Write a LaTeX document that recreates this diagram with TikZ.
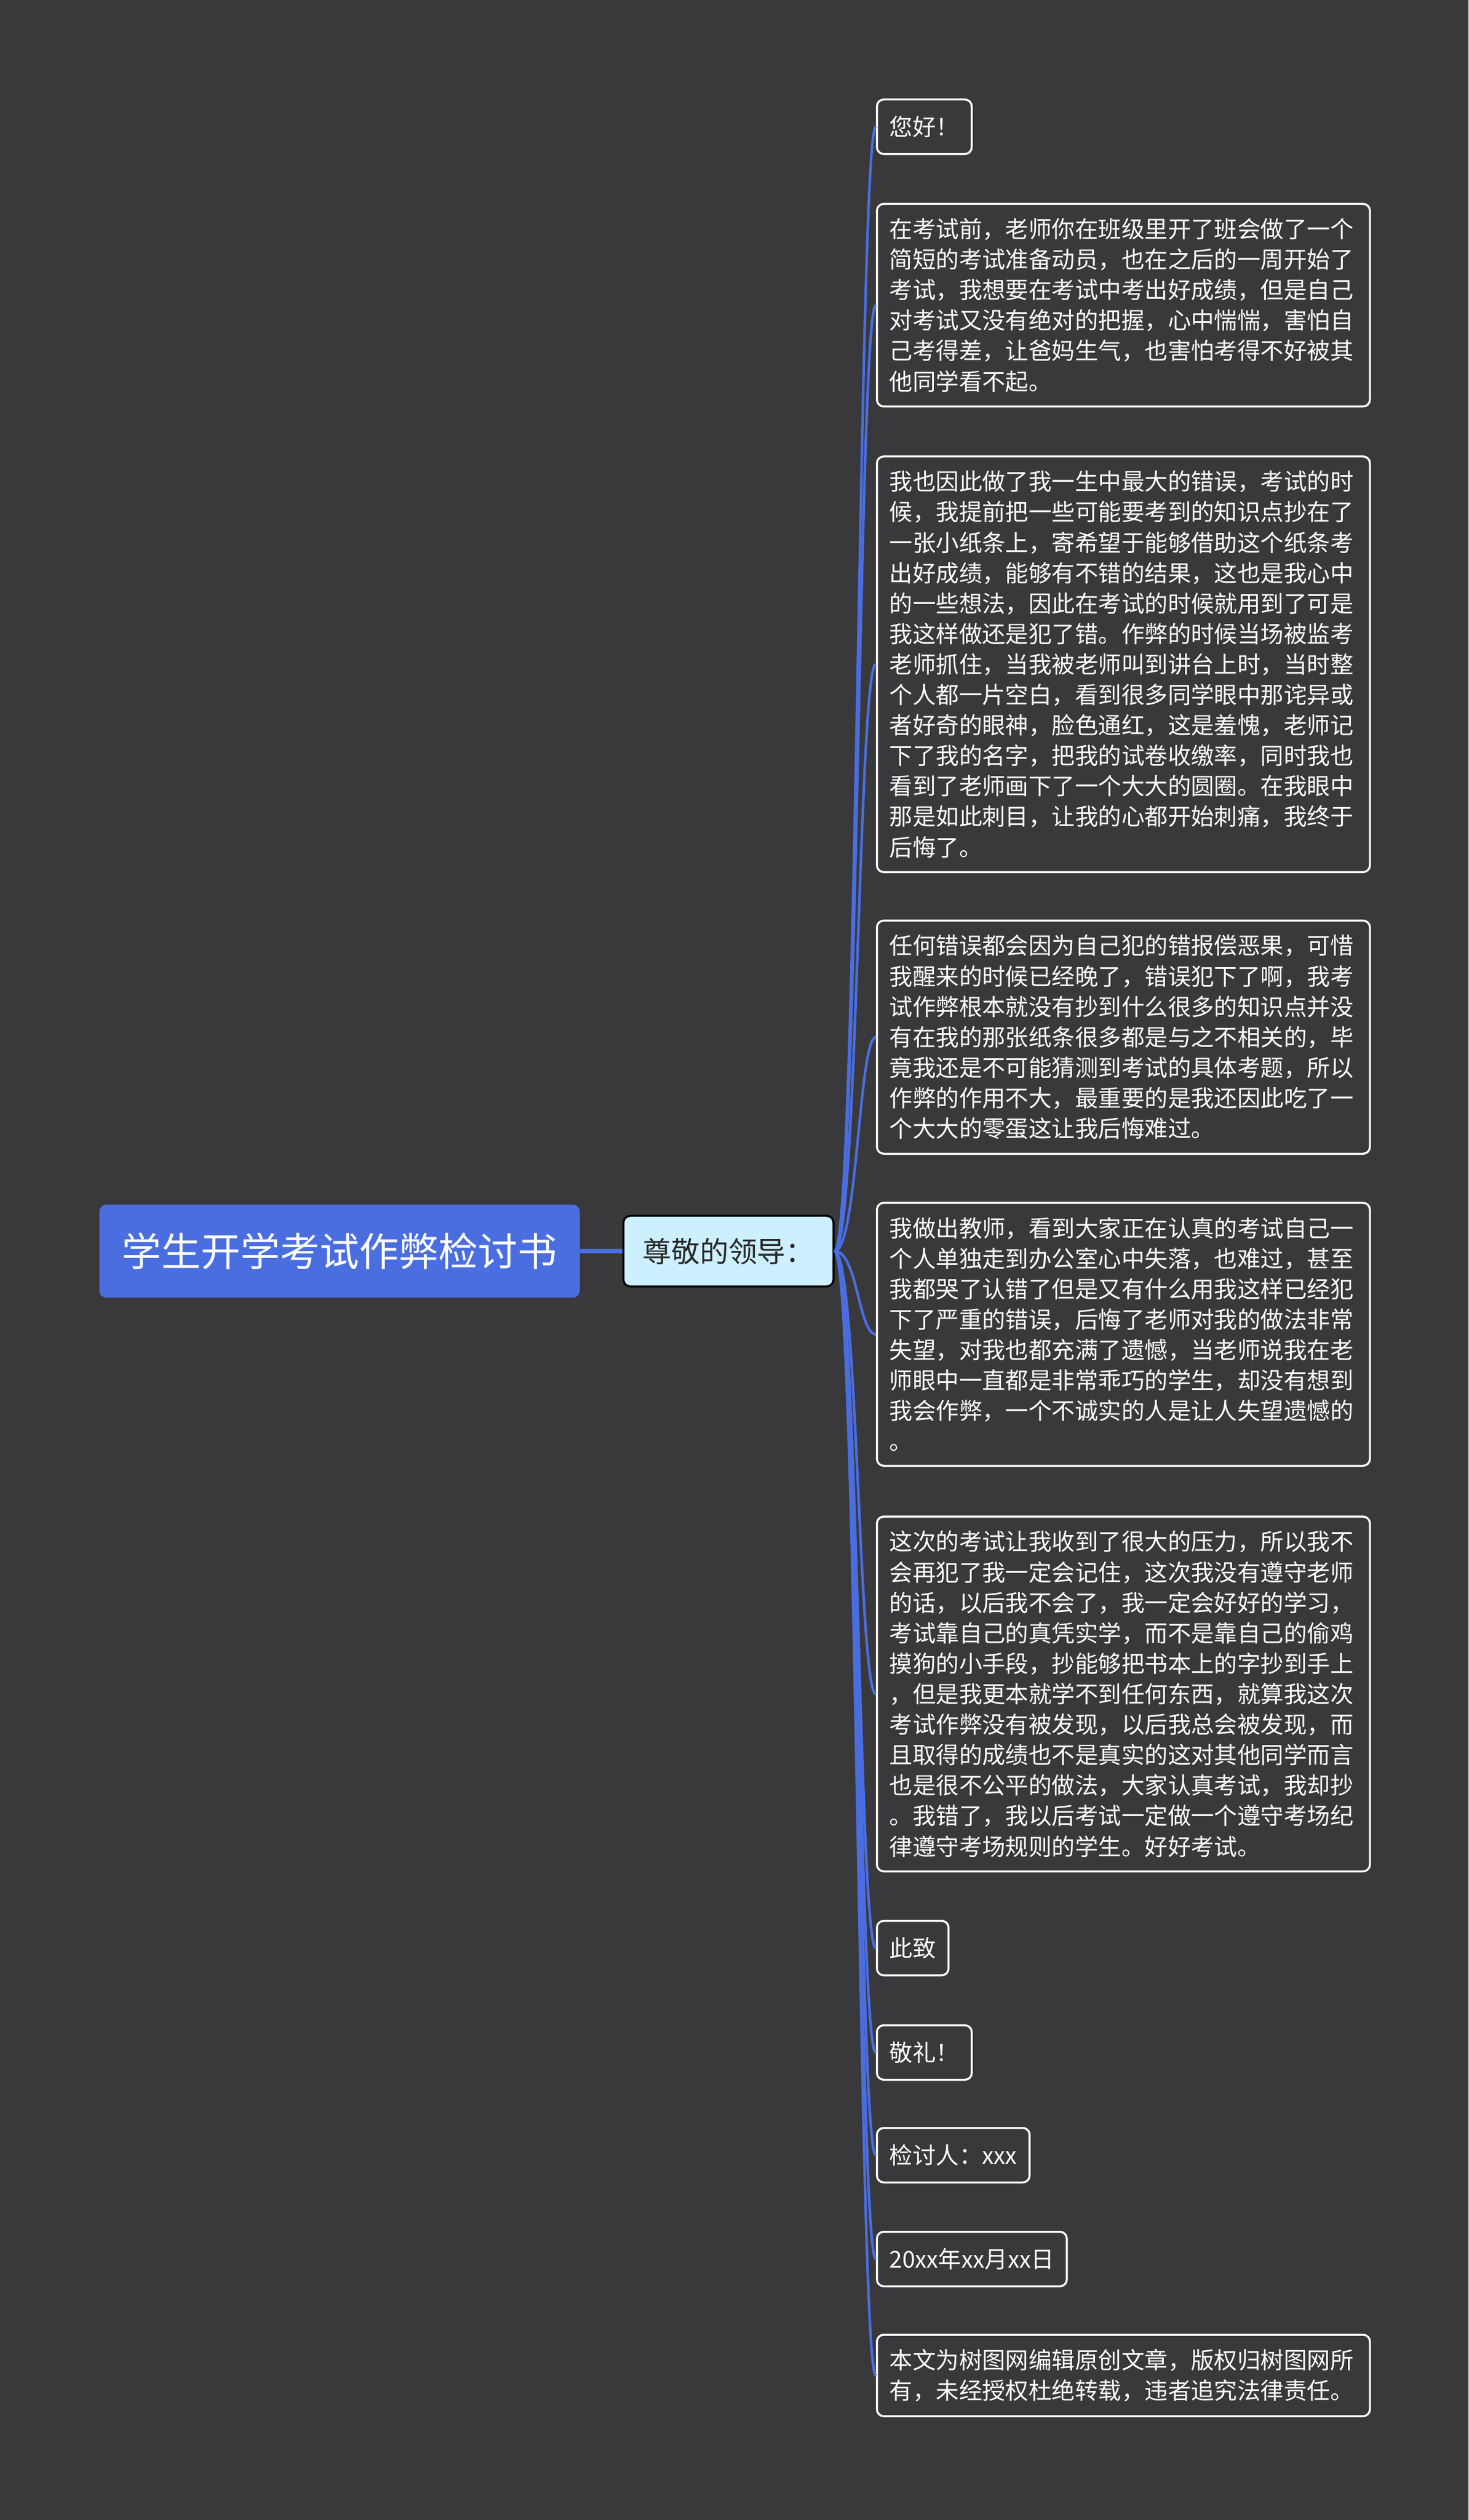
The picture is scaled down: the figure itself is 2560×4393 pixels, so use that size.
\documentclass[tikz,border=0pt]{standalone}
\usepackage{fontspec}
\setmainfont{Noto Sans CJK SC}
\definecolor{bgdark}{RGB}{57,57,59}
\definecolor{rootblue}{RGB}{74,110,224}
\definecolor{paleblue}{RGB}{204,240,254}
\definecolor{inkgray}{RGB}{40,40,40}

\begin{document}
\begin{tikzpicture}[x=0.01cm,y=-0.01cm,
  title/.style={fill=rootblue, text=white, rounded corners=0.12cm, minimum width=8.37cm, minimum height=1.62cm, inner sep=0pt, font=\fontsize{19.6pt}{24pt}\selectfont},
  hub/.style={fill=paleblue, draw=black, line width=0.035cm, text=inkgray, rounded corners=0.12cm, minimum width=3.66cm, minimum height=1.23cm, inner sep=0pt, font=\fontsize{14.2pt}{17pt}\selectfont},
  leaf/.style={draw=white, fill=bgdark, text=white, line width=0.035cm, rounded corners=0.12cm, anchor=west, align=left, inner xsep=0.22cm, inner ysep=0.25cm, minimum height=0.95cm, font=\fontsize{11.5pt}{15.1pt}\selectfont},
  para/.style={leaf, text width=8.15cm},
  trunk/.style={rootblue, line width=0.08cm},
  twig/.style={rootblue, line width=0.045cm}]
\path[use as bounding box, fill=bgdark] (0,0) rectangle (2560,4393);

% root and first branch
\node[title] (exam) at (592,2181) {学生开学考试作弊检讨书};
\node[hub] (greet) at (1270,2181) {尊敬的领导：};
\draw[trunk] (exam) -- (greet);

% leaves
\node[leaf] (l1) at (1527,221) {您好！};
\node[para] (l2) at (1527,532) {在考试前，老师你在班级里开了班会做了一个\\简短的考试准备动员，也在之后的一周开始了\\考试，我想要在考试中考出好成绩，但是自己\\对考试又没有绝对的把握，心中惴惴，害怕自\\己考得差，让爸妈生气，也害怕考得不好被其\\他同学看不起。};
\node[para] (l3) at (1527,1158) {我也因此做了我一生中最大的错误，考试的时\\候，我提前把一些可能要考到的知识点抄在了\\一张小纸条上，寄希望于能够借助这个纸条考\\出好成绩，能够有不错的结果，这也是我心中\\的一些想法，因此在考试的时候就用到了可是\\我这样做还是犯了错。作弊的时候当场被监考\\老师抓住，当我被老师叫到讲台上时，当时整\\个人都一片空白，看到很多同学眼中那诧异或\\者好奇的眼神，脸色通红，这是羞愧，老师记\\下了我的名字，把我的试卷收缴率，同时我也\\看到了老师画下了一个大大的圆圈。在我眼中\\那是如此刺目，让我的心都开始刺痛，我终于\\后悔了。};
\node[para] (l4) at (1527,1808) {任何错误都会因为自己犯的错报偿恶果，可惜\\我醒来的时候已经晚了，错误犯下了啊，我考\\试作弊根本就没有抄到什么很多的知识点并没\\有在我的那张纸条很多都是与之不相关的，毕\\竟我还是不可能猜测到考试的具体考题，所以\\作弊的作用不大，最重要的是我还因此吃了一\\个大大的零蛋这让我后悔难过。};
\node[para] (l5) at (1527,2326) {我做出教师，看到大家正在认真的考试自己一\\个人单独走到办公室心中失落，也难过，甚至\\我都哭了认错了但是又有什么用我这样已经犯\\下了严重的错误，后悔了老师对我的做法非常\\失望，对我也都充满了遗憾，当老师说我在老\\师眼中一直都是非常乖巧的学生，却没有想到\\我会作弊，一个不诚实的人是让人失望遗憾的\\。};
\node[para] (l6) at (1527,2953) {这次的考试让我收到了很大的压力，所以我不\\会再犯了我一定会记住，这次我没有遵守老师\\的话，以后我不会了，我一定会好好的学习，\\考试靠自己的真凭实学，而不是靠自己的偷鸡\\摸狗的小手段，抄能够把书本上的字抄到手上\\，但是我更本就学不到任何东西，就算我这次\\考试作弊没有被发现，以后我总会被发现，而\\且取得的成绩也不是真实的这对其他同学而言\\也是很不公平的做法，大家认真考试，我却抄\\。我错了，我以后考试一定做一个遵守考场纪\\律遵守考场规则的学生。好好考试。};
\node[leaf] (l7) at (1527,3396) {此致};
\node[leaf] (l8) at (1527,3578) {敬礼！};
\node[leaf] (l9) at (1527,3757) {检讨人：xxx};
\node[leaf] (l10) at (1527,3938) {20xx年xx月xx日};
\node[para] (l11) at (1527,4141) {本文为树图网编辑原创文章，版权归树图网所\\有，未经授权杜绝转载，违者追究法律责任。};

\foreach \n in {1,...,11}
  \draw[twig] (greet.east) .. controls +(40,0) and +(-30,0) .. (l\n.west);
\end{tikzpicture}
\end{document}
